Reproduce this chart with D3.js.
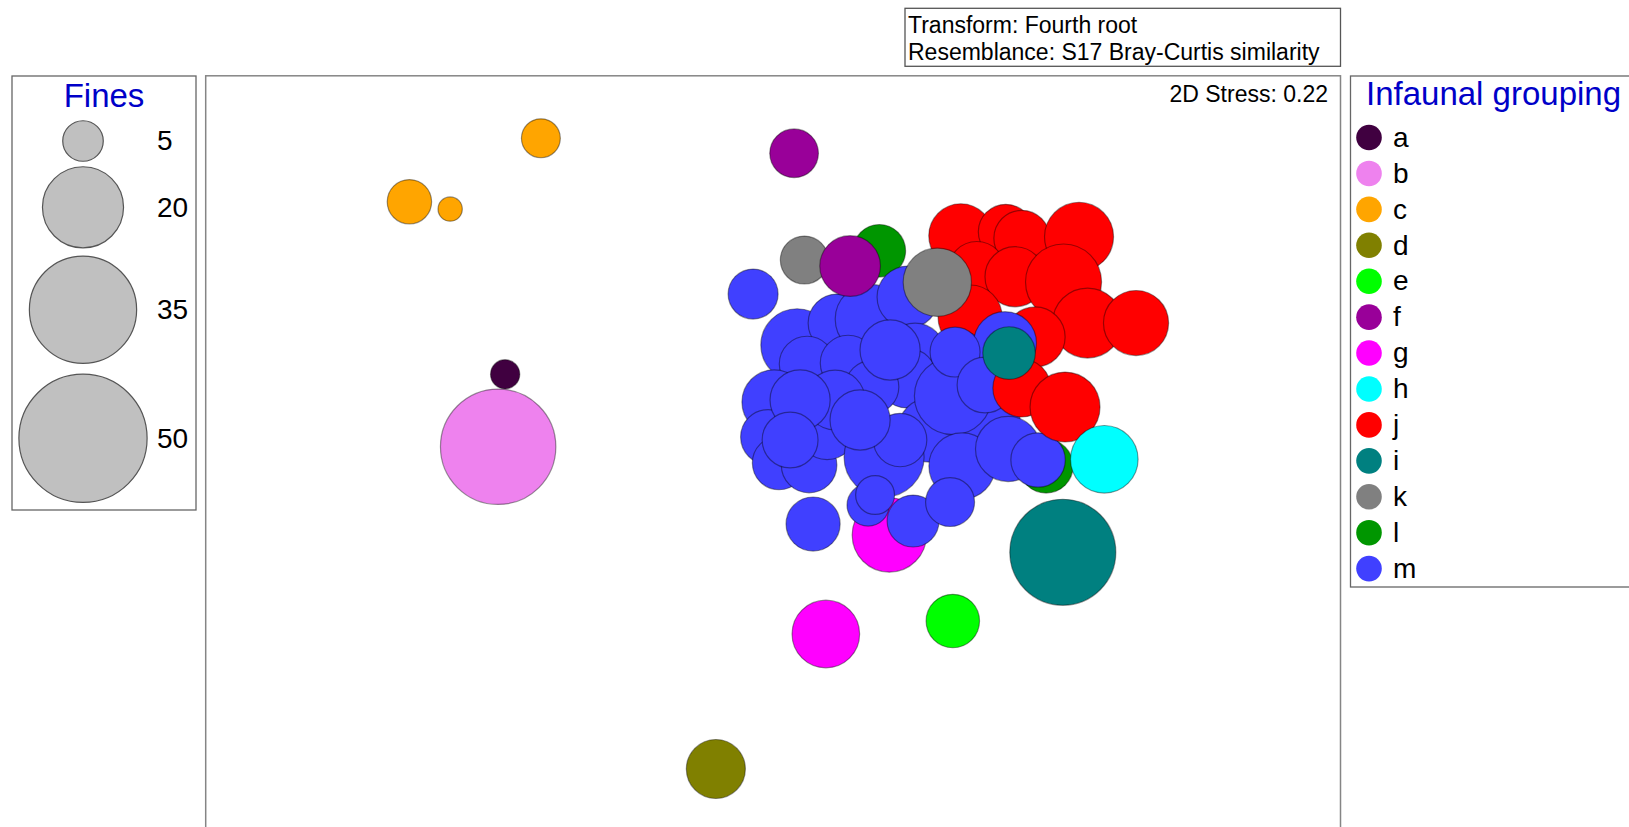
<!DOCTYPE html>
<html>
<head>
<meta charset="utf-8">
<script src="https://cdn.jsdelivr.net/npm/d3@7"></script>
<style>
  html, body { margin: 0; padding: 0; background: #fff; overflow: hidden; }
  text { font-family: Arial, "Liberation Sans", sans-serif; }
</style>
</head>
<body>
<svg id="chart" width="1629" height="827"></svg>
<script>
// Infaunal groups and their symbol colours
const groups = ["a", "b", "c", "d", "e", "f", "g", "h", "j", "i", "k", "l", "m"];
const groupColors = ["#400040", "#ee82ee", "#ffa500", "#808000", "#00ff00", "#990099",
                     "#ff00ff", "#00ffff", "#ff0000", "#008080", "#808080", "#009600", "#4040ff"];

// Bubble key values (% fines)
const finesKey = [5, 20, 35, 50];

// nMDS ordination: one entry per sample, in plotting order
const sampleGroup = [
  "c", "c", "c", "a", "b", "d", "e", "g", "i", "f", "k", "l", "g", "l",
  "j", "j", "j", "j", "j", "j", "j", "j", "j", "j", "j",
  "m", "m", "m", "m", "m", "m", "m", "m", "m", "m", "m", "m", "m", "m", "m", "m",
  "m", "m", "m", "m", "m", "m", "m", "m", "m", "m", "m", "m", "m", "m", "m",
  "m", "m", "m", "m", "m", "m",
  "j", "j", "f", "k", "i", "h"
];
const sampleMDS1 = [
  -0.929, -1.455, -1.292, -1.072, -1.100, -0.229, 0.719, 0.211, 1.159, 0.084, 0.125, 0.425, 0.465, 1.092,
  0.751, 0.931, 0.995, 1.224, 0.815, 0.968, 1.162, 1.258, 1.452, 1.048, 0.788,
  -0.080, 0.160, 0.096, 0.256, 0.388, 0.136, 0.300, 0.540, 0.568, 0.748, 0.536, 0.396, 0.004, -0.020, 0.024, 0.144,
  0.216, 0.248, 0.628, 0.868, 0.928, 0.444, 0.508, 0.720, 0.756, 0.940, 1.060, 0.380, 0.408, 0.560, 0.708,
  0.468, 0.728, 0.108, 0.348, 0.848, 0.068,
  0.995, 1.168, 0.308, 0.657, 0.944, 1.325
];
const sampleMDS2 = [
  1.207, 0.953, 0.924, 0.263, -0.027, -1.316, -0.724, -0.776, -0.449, 1.147, 0.720, 0.757, -0.380, -0.104,
  0.817, 0.833, 0.807, 0.813, 0.680, 0.653, 0.632, 0.468, 0.468, 0.412, 0.492,
  0.584, -0.336, 0.380, 0.468, 0.484, 0.304, 0.308, 0.572, 0.348, 0.320, 0.248, 0.212, 0.152, 0.012, -0.092, -0.100,
  0.040, 0.160, 0.040, 0.080, 0.388, -0.068, 0.000, 0.176, -0.104, -0.036, -0.080, -0.260, -0.220, -0.324, -0.248,
  0.360, 0.352, 0.160, 0.080, 0.220, 0.000,
  0.208, 0.132, 0.696, 0.631, 0.348, -0.077
];
const sampleFines = [
  4.6, 6.0, 1.8, 2.6, 40.5, 10.6, 8.7, 13.9, 34.2, 7.2, 7.0, 8.4, 16.8, 8.9,
  12.5, 9.2, 9.5, 14.5, 9.9, 11.0, 17.6, 14.9, 12.9, 11.0, 12.5,
  7.6, 8.9, 16.0, 10.2, 14.8, 9.4, 9.4, 11.7, 10.9, 10.2, 10.9, 8.7, 12.6, 9.2, 8.7, 9.4,
  10.6, 10.9, 12.6, 10.9, 12.0, 19.5, 8.7, 18.2, 13.4, 12.9, 9.0, 5.4, 4.6, 8.2, 7.3,
  11.0, 7.6, 11.0, 11.0, 9.5, 9.5,
  10.2, 14.9, 11.2, 14.2, 8.4, 13.9
];

const svg = d3.select("#chart");
const color = d3.scaleOrdinal().domain(groups).range(groupColors);
const radius = d3.scaleSqrt().domain([0, 50]).range([0, 64.1]);

// Plot frame
const plot = { left: 205.7, top: 75.8, right: 1340.5, bottom: 840 };
const x = d3.scaleLinear().domain([-2.27, 2.27]).range([plot.left, plot.right]);
const y = d3.scaleLinear().domain([1.457, -1.6]).range([plot.top, plot.bottom]);

svg.append("rect")
  .attr("x", plot.left).attr("y", plot.top)
  .attr("width", plot.right - plot.left).attr("height", plot.bottom - plot.top)
  .attr("fill", "#fff").attr("stroke", "#858585").attr("stroke-width", 1.5);

svg.append("clipPath").attr("id", "plotClip")
  .append("rect")
  .attr("x", plot.left).attr("y", plot.top)
  .attr("width", plot.right - plot.left).attr("height", plot.bottom - plot.top);

const samples = sampleGroup.map((g, i) => ({
  group: g, mds1: sampleMDS1[i], mds2: sampleMDS2[i], fines: sampleFines[i]
}));

svg.append("g").attr("clip-path", "url(#plotClip)")
  .selectAll("circle").data(samples).join("circle")
  .attr("cx", d => x(d.mds1))
  .attr("cy", d => y(d.mds2))
  .attr("r", d => radius(d.fines))
  .attr("fill", d => color(d.group))
  .attr("stroke", "#000").attr("stroke-opacity", 0.4).attr("stroke-width", 1.2);

svg.append("text")
  .attr("x", 1328).attr("y", 101.5)
  .attr("text-anchor", "end")
  .attr("font-size", 23).attr("fill", "#000")
  .text("2D Stress: 0.22");

// Analysis notes
svg.append("rect")
  .attr("x", 905).attr("y", 8.3).attr("width", 435.5).attr("height", 58)
  .attr("fill", "#fff").attr("stroke", "#555").attr("stroke-width", 1.3);
svg.append("text").attr("x", 908).attr("y", 33.3).attr("font-size", 23).text("Transform: Fourth root");
svg.append("text").attr("x", 908).attr("y", 60).attr("font-size", 23).text("Resemblance: S17 Bray-Curtis similarity");

// Bubble size key: circles stacked with a slowly widening gap
const keyBox = svg.append("g");
keyBox.append("rect")
  .attr("x", 12).attr("y", 76).attr("width", 184).attr("height", 434)
  .attr("fill", "#fff").attr("stroke", "#666").attr("stroke-width", 1.3);
keyBox.append("text")
  .attr("x", 104).attr("y", 107).attr("text-anchor", "middle")
  .attr("font-size", 33).attr("fill", "#0000c8")
  .text("Fines");
let cursor = 141 - radius(finesKey[0]);
const keyRows = finesKey.map((v, i) => {
  const r = radius(v);
  const cy = cursor + r;
  cursor = cy + r + 5.5 + 2.7 * i;
  return { v, r, cy };
});
keyBox.selectAll("circle").data(keyRows).join("circle")
  .attr("cx", 83).attr("cy", d => d.cy).attr("r", d => d.r)
  .attr("fill", "#c0c0c0").attr("stroke", "#555").attr("stroke-width", 1.2);
keyBox.selectAll("text.val").data(keyRows).join("text")
  .attr("class", "val")
  .attr("x", 157).attr("y", d => d.cy).attr("dy", "0.33em")
  .attr("font-size", 28).attr("fill", "#000")
  .text(d => d.v);

// Group legend
const legend = svg.append("g");
legend.append("rect")
  .attr("x", 1350.5).attr("y", 76).attr("width", 300).attr("height", 511)
  .attr("fill", "#fff").attr("stroke", "#666").attr("stroke-width", 1.3);
legend.append("text")
  .attr("x", 1366).attr("y", 105).attr("font-size", 33).attr("fill", "#0000c8")
  .text("Infaunal grouping");
const rowY = d3.scalePoint().domain(groups).range([137.5, 568.6]);
legend.selectAll("circle").data(groups).join("circle")
  .attr("cx", 1369).attr("cy", d => rowY(d)).attr("r", 12.8)
  .attr("fill", d => color(d));
legend.selectAll("text.lab").data(groups).join("text")
  .attr("class", "lab")
  .attr("x", 1393).attr("y", d => rowY(d)).attr("dy", "0.33em")
  .attr("font-size", 28).attr("fill", "#000")
  .text(d => d);
</script>
</body>
</html>
